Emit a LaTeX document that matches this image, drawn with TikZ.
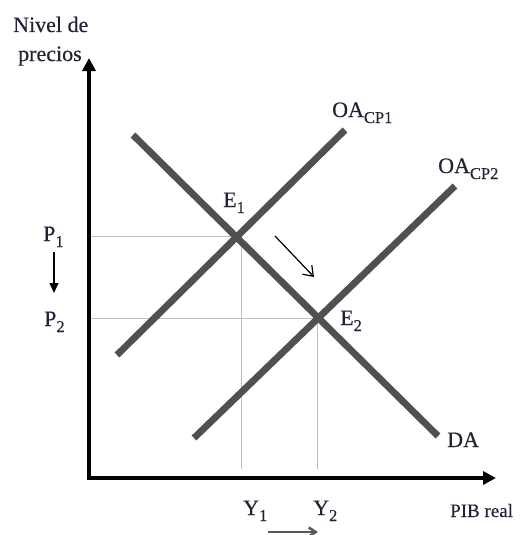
\documentclass[tikz,border=0pt]{standalone}
\usepackage{fontspec}
\setmainfont{Liberation Serif}[FakeBold=0.4]
\usetikzlibrary{arrows.meta}
\definecolor{txt}{RGB}{34,34,54}
\definecolor{crv}{RGB}{80,80,80}
\newcommand\lsub[1]{\raisebox{-6pt}{\fontsize{16.5}{16.5}\selectfont #1}}
\begin{document}
\begin{tikzpicture}[x=1pt,y=-1pt,
  curve/.style={line width=6.8pt, draw=crv},
  axisline/.style={line width=4.5pt, draw=black, line join=miter,
    {Triangle[length=13pt,width=13pt]}-{Triangle[length=13pt,width=13pt]}},
  guide/.style={line width=1pt, draw=black!25},
  lbl/.style={font=\fontsize{22}{24}\selectfont, text=txt, inner sep=0pt, anchor=base west},
  small/.style={font=\fontsize{19}{20}\selectfont, text=txt, inner sep=0pt, anchor=base west},
  thinarrow/.style={line width=1.4pt, draw=black},
]
\useasboundingbox (0,0) rectangle (522,535);

% axes
\coordinate (ytip) at (89,58);
\coordinate (orig) at (89,478);
\coordinate (xtip) at (496,478);
\draw[axisline] (ytip) -- (orig) -- (xtip);

% equilibria
\coordinate (E1) at (237,236);
\coordinate (E2) at (317,318);
\coordinate (p1) at (91,236);
\coordinate (p2) at (91,318);
\coordinate (y1) at (241,469);
\coordinate (y1t) at (241,236);
\coordinate (y2) at (317,469);

% guides
\draw[guide] (p1) -- (E1);
\draw[guide] (p2) -- (E2);
\draw[guide] (y1t) -- (y1);
\draw[guide] (E2) -- (y2);

% curves
\coordinate (oa1a) at (117,355);
\coordinate (oa1b) at (345,130);
\coordinate (oa2a) at (194,438);
\coordinate (oa2b) at (455,186);
\coordinate (daa) at (133,135);
\coordinate (dab) at (438,436);
\draw[curve] (oa1a) -- (oa1b);
\draw[curve] (oa2a) -- (oa2b);
\draw[curve] (daa) -- (dab);

% labels
\node[lbl] (lniv) at (13,32) {Nivel de};
\node[lbl] (lpre) at (18,61) {precios};
\node[lbl] (lP1) at (43,241) {P\lsub{1}};
\node[lbl] (lP2) at (44,326) {P\lsub{2}};
\node[lbl] (lE1) at (223,207) {E\lsub{1}};
\node[lbl] (lE2) at (340,325) {E\lsub{2}};
\node[lbl] (lOA1) at (332,117) {OA\lsub{CP1}};
\node[lbl] (lOA2) at (438,173) {OA\lsub{CP2}};
\node[lbl] (lDA) at (447,447) {DA};
\node[lbl] (lY1) at (243,515) {Y\lsub{1}};
\node[lbl] (lY2) at (313,515) {Y\lsub{2}};
\node[small] (lPIB) at (450,517) {PIB real};

% small arrows
\coordinate (pa) at (54,252);
\coordinate (pb) at (54,293);
\draw[thinarrow, -{Triangle[length=10pt,width=9pt]}] (pa) -- (pb);
\coordinate (da1) at (275,236);
\coordinate (da2) at (314,277);
\draw[line width=1.2pt, draw=black, -{Straight Barb[length=9pt,width=13pt]}] (da1) -- (da2);
\coordinate (ya) at (268,532);
\coordinate (yb) at (318,532);
\draw[line width=2.5pt, draw=black!65, -{Straight Barb[length=7pt,width=9pt]}] (ya) -- (yb);
\end{tikzpicture}
\end{document}
